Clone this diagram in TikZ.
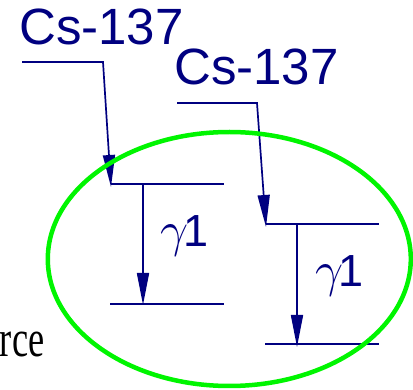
\documentclass[tikz,border=0pt]{standalone}
\usepackage{fix-cm}
\usepackage{fontspec}
\setmainfont{Liberation Serif}
\newfontfamily\arialfont{Liberation Sans}
\usetikzlibrary{arrows.meta}
\definecolor{navy}{RGB}{0,0,128}
\definecolor{ringgreen}{RGB}{0,245,0}
\begin{document}
\begin{tikzpicture}[x=1pt,y=1pt,
  lvl/.style={draw=navy, line width=1.7pt},
  feed/.style={draw=navy, line width=1.7pt, -{Triangle[length=32pt,width=12pt]}},
  lbl/.style={text=navy, inner sep=0, anchor=base west, font=\arialfont\fontsize{51}{60}\selectfont},
  glbl/.style={text=navy, inner sep=0, anchor=base west, font=\fontsize{50}{60}\selectfont}]
\useasboundingbox (0,0) rectangle (413,-390);
% labels
\node[lbl] (cs1) at (19,-44.5) {Cs-137};
\node[lbl] (cs2) at (174,-84.5) {Cs-137};
\node[glbl] (gl1) at (160,-247) {$\gamma$\kern-5pt{\arialfont\fontsize{45}{54}\selectfont 1}};
\node[glbl] (gl2) at (315,-287) {$\gamma$\kern-5pt{\arialfont\fontsize{45}{54}\selectfont 1}};
\node[inner sep=0, anchor=base east, xscale=0.7, font=\fontsize{52}{60}\selectfont] (src) at (44.5,-356.5) {rce};
% left scheme
\coordinate (f1s) at (22,-62);
\coordinate (f1b) at (103,-62);
\coordinate (t1) at (111,-187);
\coordinate (l1a) at (111,-184);
\coordinate (l1b) at (224,-184);
\coordinate (g1s) at (143,-184);
\coordinate (g1e) at (143,-305);
\coordinate (l2a) at (110,-304);
\coordinate (l2b) at (224,-304);
\draw[feed] (f1s) -- (f1b) -- (t1);
\draw[lvl] (l1a) -- (l1b);
\draw[lvl] (l2a) -- (l2b);
\draw[feed] (g1s) -- (g1e);
% right scheme
\coordinate (f2s) at (177,-103);
\coordinate (f2b) at (257,-103);
\coordinate (t2) at (266,-227);
\coordinate (r1a) at (266,-224);
\coordinate (r1b) at (379,-224);
\coordinate (g2s) at (297,-224);
\coordinate (g2e) at (297,-347);
\coordinate (r2a) at (265,-344);
\coordinate (r2b) at (379,-344);
\draw[feed] (f2s) -- (f2b) -- (t2);
\draw[lvl] (r1a) -- (r1b);
\draw[lvl] (r2a) -- (r2b);
\draw[feed] (g2s) -- (g2e);
% source ring
\coordinate (ringc) at (229.3,-259);
\draw[draw=ringgreen, line width=4.5pt] (ringc) ellipse [x radius=181.5, y radius=127];
\end{tikzpicture}
\end{document}
